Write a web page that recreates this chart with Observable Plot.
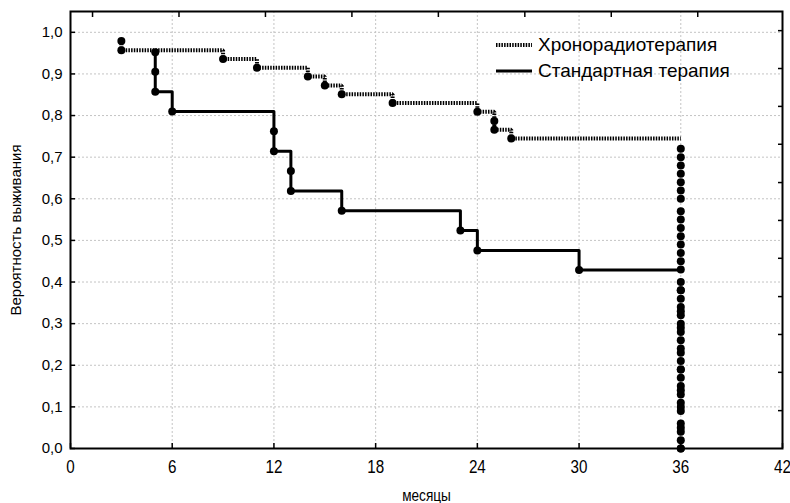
<!DOCTYPE html>
<html>
<head>
<meta charset="utf-8">
<script src="https://cdn.jsdelivr.net/npm/d3@7"></script>
<script src="https://cdn.jsdelivr.net/npm/@observablehq/plot@0.6"></script>
<style>
  html, body { margin: 0; padding: 0; background: white; }
  #wrap { position: relative; width: 790px; height: 503px; font-family: "Liberation Sans", Arial, sans-serif; }
  #legend { position: absolute; left: 496px; top: 32px; font-size: 19px; line-height: 26px; color: black; }
  #legend .row { display: flex; align-items: center; white-space: nowrap; }
  #legend svg { margin-right: 6px; }
</style>
</head>
<body>
<div id="wrap">
  <div id="legend"></div>
</div>
<script>
// ---- Data ----
const seriesNames = ["Хронорадиотерапия", "Стандартная терапия"];

// Хронорадиотерапия: event times (months) and survival after each event
const chronoTimes = [3, 3, 9, 11, 14, 15, 16, 19, 24, 25, 25, 26];
const chronoSurv  = [0.979, 0.957, 0.936, 0.915, 0.894, 0.872, 0.851, 0.830, 0.809, 0.787, 0.766, 0.745];
// censored observations plotted at 36 months
const chronoCensored = [0.72, 0.70, 0.68, 0.66, 0.64, 0.62, 0.60, 0.57, 0.55, 0.53, 0.51, 0.49, 0.47, 0.45,
  0.43, 0.40, 0.38, 0.36, 0.34, 0.32, 0.30, 0.28, 0.26, 0.23, 0.21, 0.19, 0.17, 0.15, 0.13, 0.11, 0.09,
  0.06, 0.04, 0.02, 0.00];

// Стандартная терапия
const standardTimes = [5, 5, 5, 6, 12, 12, 13, 13, 16, 23, 24, 30];
const standardSurv  = [0.952, 0.905, 0.857, 0.810, 0.762, 0.714, 0.667, 0.619, 0.571, 0.524, 0.476, 0.429];
const standardCensored = [0.38, 0.33, 0.29, 0.24, 0.19, 0.14, 0.10, 0.05, 0.00];

const censorTime = 36;

// Axes
const xTicks = [0, 6, 12, 18, 24, 30, 36, 42];
const yTicks = [0, 0.1, 0.2, 0.3, 0.4, 0.5, 0.6, 0.7, 0.8, 0.9, 1.0];
const topTicks = [1.3, 6.4, 11.5, 16.6, 21.7, 26.8, 31.9, 37.0];
const rightTicks = [0.091, 0.183, 0.274, 0.365, 0.457, 0.548, 0.639, 0.731, 0.822, 0.913, 1.004];

const xLabel = "месяцы";
const yLabel = "Вероятность выживания";

// ---- Build tables ----
function stepLine(times, surv, end) {
  const pts = times.map((t, i) => ({t, s: surv[i]}));
  pts.push({t: end, s: surv[surv.length - 1]});
  return pts;
}
const chronoLine = stepLine(chronoTimes, chronoSurv, censorTime);
const standardLine = stepLine(standardTimes, standardSurv, censorTime);
const eventPts = [
  ...chronoTimes.map((t, i) => ({t, s: chronoSurv[i]})),
  ...standardTimes.map((t, i) => ({t, s: standardSurv[i]})),
  ...chronoCensored.map(s => ({t: censorTime, s})),
  ...standardCensored.map(s => ({t: censorTime, s}))
];

const gridColor = "#c4c4c4";
const dashChrono = "1.5,1.2";

const chart = Plot.plot({
  width: 790,
  height: 503,
  marginLeft: 70,
  marginRight: 8,
  marginTop: 11,
  marginBottom: 55,
  style: {fontFamily: "'Liberation Sans', Arial, sans-serif", fontSize: "15px", color: "black", background: "white", overflow: "visible"},
  x: {domain: [0, 42]},
  y: {domain: [0, 1.05]},
  marks: [
    Plot.gridX(xTicks.slice(1, -1), {stroke: gridColor, strokeOpacity: 1, strokeDasharray: "2,2"}),
    Plot.gridY(yTicks.slice(1), {stroke: gridColor, strokeOpacity: 1, strokeDasharray: "2,2"}),
    Plot.axisX({ticks: xTicks, tickSize: -5, tickPadding: 16, strokeWidth: 1.5,
      label: xLabel, labelAnchor: "center", labelArrow: "none", labelOffset: 52,
      fontSize: 19, fontFamily: "'Liberation Sans Narrow', 'Liberation Sans', Arial, sans-serif"}),
    Plot.axisY({ticks: yTicks, tickSize: -5, tickPadding: 13, strokeWidth: 1.5,
      tickFormat: d => d.toFixed(1).replace(".", ","),
      label: yLabel, labelAnchor: "center", labelArrow: "none", labelOffset: 60, fontSize: 15}),
    Plot.axisX({anchor: "top", ticks: topTicks, tickSize: -5, strokeWidth: 1.5, tickFormat: () => "", label: null}),
    Plot.axisY({anchor: "right", ticks: rightTicks, tickSize: -5, strokeWidth: 1.5, tickFormat: () => "", label: null}),
    Plot.line(standardLine, {x: "t", y: "s", curve: "step-after", stroke: "black", strokeWidth: 3}),
    Plot.line(chronoLine, {x: "t", y: "s", curve: "step-after", stroke: "black", strokeWidth: 4,
      strokeDasharray: dashChrono, strokeLinecap: "butt", strokeLinejoin: "miter"}),
    Plot.dot(eventPts, {x: "t", y: "s", r: 4, fill: "black", stroke: "none"}),
    Plot.frame({stroke: "black", strokeWidth: 2})
  ]
});

const wrap = document.getElementById("wrap");
wrap.insertBefore(chart, wrap.firstChild);

// condensed look for x tick labels
d3.select(chart).selectAll('g[aria-label="x-axis tick label"] text')
  .each(function() {
    const tr = this.getAttribute("transform") || "";
    this.setAttribute("transform", tr + " scale(0.8,1)");
  });
d3.select(chart).selectAll('g[aria-label="x-axis label"]')
  .attr("font-size", 16);
d3.select(chart).selectAll('g[aria-label="x-axis label"] text')
  .each(function() {
    const tr = this.getAttribute("transform") || "";
    this.setAttribute("transform", tr + " scale(0.85,1)");
  });

// Legend
const legend = d3.select("#legend");
const styles = [
  {dash: dashChrono, width: 4},
  {dash: null, width: 3}
];
seriesNames.forEach((name, i) => {
  const row = legend.append("div").attr("class", "row");
  const svg = row.append("svg").attr("width", 36).attr("height", 12);
  const ln = svg.append("line").attr("x1", 0).attr("x2", 36).attr("y1", 6).attr("y2", 6)
    .attr("stroke", "black").attr("stroke-width", styles[i].width);
  if (styles[i].dash) ln.attr("stroke-dasharray", styles[i].dash);
  row.append("span").text(name);
});
</script>
</body>
</html>
